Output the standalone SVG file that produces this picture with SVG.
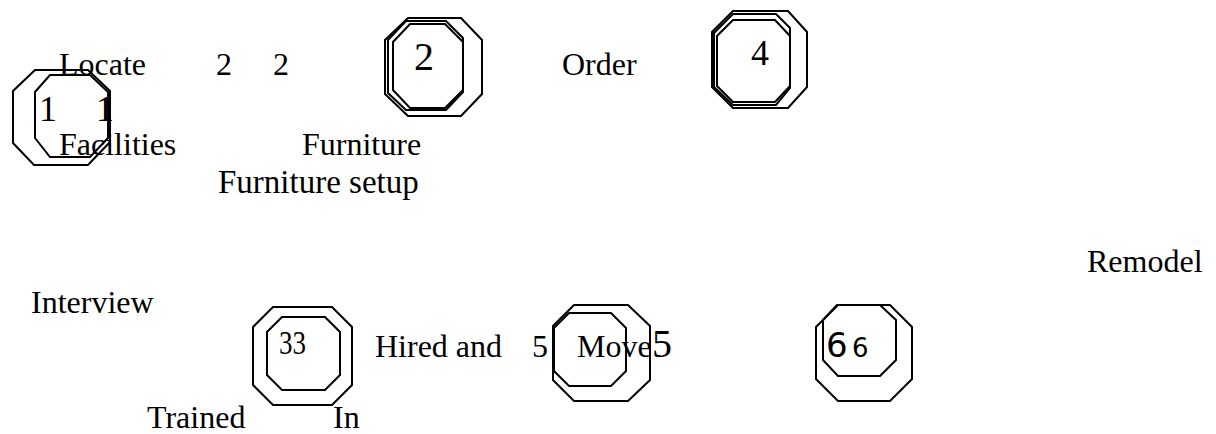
<svg xmlns="http://www.w3.org/2000/svg" width="1216" height="434" viewBox="0 0 1216 434">
<style>
.oct{fill:none;stroke:#000;stroke-width:2}
.t{font-family:"Liberation Serif","Times New Roman",serif;font-size:32px;fill:#000}
.s{font-family:"DejaVu Sans","Liberation Sans",sans-serif;fill:#000}
</style>
<rect width="1216" height="434" fill="#fff"/>
<g id="labels">
<text class="t" x="59" y="75">Locate</text>
<text class="t" x="216" y="75">2</text>
<text class="t" x="273" y="75">2</text>
<text class="t" x="59" y="155">Facilities</text>
<text class="t" x="302" y="155">Furniture</text>
<text class="t" x="218" y="193" style="font-size:33px">Furniture setup</text>
<text class="t" x="562" y="75">Order</text>
<text class="t" x="1087" y="272">Remodel</text>
<text class="t" x="31" y="313">Interview</text>
<text class="t" x="375" y="357">Hired and</text>
<text class="t" x="532" y="357">5</text>
<text class="t" x="577" y="357">Move</text>
<text class="t" x="147" y="428">Trained</text>
<text class="t" x="333" y="428">In</text>
</g>
<g id="node1">
<polygon class="oct" points="35,70 88,70 110,91 110,142 88,165 34,165 13,143 13,91"/>
<polygon class="oct" points="50,75 90,75 108,92 108,138 90,157 50,157 35,138 35,92"/>
<text class="t" x="39" y="121" style="font-size:36px">1</text>
<text class="t" x="96" y="121" style="font-size:36px">1</text>
</g>
<g id="node2">
<polygon class="oct" points="408,18 461,18 482,40 482,94 461,116 408,116 385,94 385,40"/>
<polygon class="oct" points="406,21 446,21 463,38 463,92 446,110 406,110 388,93 388,40"/>
<polygon class="oct" points="410,24 445,24 463,42 463,90 445,108 410,108 393,90 393,42"/>
<text class="t" x="414" y="70" style="font-size:40px">2</text>
</g>
<g id="node4">
<polygon class="oct" points="733,11 788,11 807,32 807,87 788,108 733,108 712,87 712,32"/>
<polygon class="oct" points="733,14 776,14 790,28 790,88 776,105 733,105 714,87 714,33"/>
<polygon class="oct" points="733,20 775,20 790,36 790,86 775,102 733,102 717,86 717,36"/>
<text class="t" x="751" y="65" style="font-size:36px">4</text>
</g>
<g id="node3">
<polygon class="oct" points="273,307 332,307 352,327 352,385 332,405 273,405 253,385 253,327"/>
<polygon class="oct" points="282,317 325,317 340,332 340,375 325,390 282,390 267,375 267,332"/>
<text class="t" x="279" y="354" style="font-size:34px" textLength="27" lengthAdjust="spacingAndGlyphs">33</text>
</g>
<g id="node5">
<polygon class="oct" points="574,305 628,305 650,326 650,380 628,401 574,401 553,380 553,326"/>
<polygon class="oct" points="569,313 611,313 626,328 626,371 611,386 569,386 554,371 554,328"/>
<text class="t" x="652" y="357" style="font-size:40px">5</text>
</g>
<g id="node6">
<polygon class="oct" points="838,305 890,305 912,327 912,379 890,401 838,401 816,379 816,327"/>
<polygon class="oct" points="837,305 880,305 896,320 896,360 880,376 838,376 823,360 823,320"/>
<text class="s" x="826" y="357" style="font-size:34px">6</text>
<text class="s" x="852" y="357" style="font-size:26px">6</text>
</g>
<g id="connectors"/>
</svg>
